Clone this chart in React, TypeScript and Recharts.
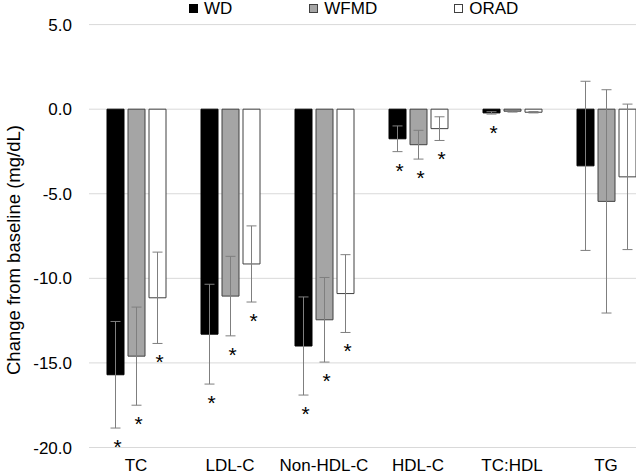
import { BarChart, Bar, XAxis, YAxis, CartesianGrid, ErrorBar, LabelList, Label } from 'recharts';

const categories = ['TC', 'LDL-C', 'Non-HDL-C', 'HDL-C', 'TC:HDL', 'TG'];

const wd = [-15.7, -13.3, -14.0, -1.75, -0.22, -3.35];
const wdErr = [3.15, 2.95, 2.9, 0.76, 0.07, 5.0];
const wdSig = [true, true, true, true, true, false];

const wfmd = [-14.6, -11.05, -12.45, -2.1, -0.12, -5.45];
const wfmdErr = [2.9, 2.35, 2.5, 0.85, 0.05, 6.6];
const wfmdSig = [true, true, true, true, false, false];

const orad = [-11.15, -9.15, -10.9, -1.15, -0.18, -4.0];
const oradErr = [2.7, 2.25, 2.3, 0.7, 0.04, 4.3];
const oradSig = [true, true, true, true, false, false];

const yTicks = [5, 0, -5, -10, -15, -20];

const data = categories.map((name, i) => ({
    name,
    wd: wd[i],
    wdErr: wdErr[i],
    wfmd: wfmd[i],
    wfmdErr: wfmdErr[i],
    orad: orad[i],
    oradErr: oradErr[i],
}));

const series = [
    { key: 'wd', name: 'WD', fill: '#000000', stroke: '#000000', values: wd, errs: wdErr, sig: wdSig },
    { key: 'wfmd', name: 'WFMD', fill: '#a5a5a5', stroke: '#404040', values: wfmd, errs: wfmdErr, sig: wfmdSig },
    { key: 'orad', name: 'ORAD', fill: '#ffffff', stroke: '#404040', values: orad, errs: oradErr, sig: oradSig },
];

const font = '"Liberation Sans", Arial, sans-serif';

// asterisk below the lower end of the error bar, scale taken from the bar itself
const makeStar = (values: number[], errs: number[], sig: boolean[]) => (props: any) => {
    const vb = props.viewBox ?? props;
    const { x, y, width, height } = vb;
    const index = props.index;
    if (index == null || !sig[index]) return null;
    const v = values[index];
    const ppu = Math.abs(height) / Math.abs(v);
    const bottom = Math.max(y, y + height);
    const low = bottom + errs[index] * ppu;
    return (
        <text
            x={x + width / 2 + 2}
            y={low + 26}
            textAnchor="middle"
            fontSize={21}
            fontFamily={font}
            fill="#000"
        >
            *
        </text>
    );
};

export default function App() {
    return (
        <div style={{ position: 'absolute', left: 0, top: 0, width: 636, height: 474, overflow: 'hidden', background: '#fff' }}>
            <div style={{
                position: 'absolute', left: 189, top: 0, display: 'flex', gap: 77,
                fontFamily: font, fontSize: 17, lineHeight: '17px', color: '#000', zIndex: 2,
            }}>
                {series.map((s) => (
                    <div key={s.key} style={{ display: 'flex', alignItems: 'center' }}>
                        <span style={{
                            display: 'inline-block', width: 7, height: 7, background: s.fill,
                            border: `1px solid ${s.stroke}`, marginRight: 6,
                        }} />
                        <span>{s.name}</span>
                    </div>
                ))}
            </div>
            <BarChart
                width={660}
                height={474}
                data={data}
                margin={{ top: 24.6, right: 7, bottom: 0, left: 0 }}
                barSize={17}
                barGap={4}
            >
                <CartesianGrid stroke="#d9d9d9" vertical={false} />
                <XAxis
                    dataKey="name"
                    axisLine={false}
                    tickLine={false}
                    tickSize={6}
                    tickMargin={5}
                    height={26.5}
                    interval={0}
                    tick={{ fontSize: 17, fontFamily: font, fill: '#000' }}
                />
                <YAxis
                    domain={[-20, 5]}
                    ticks={yTicks}
                    width={89}
                    axisLine={false}
                    tickLine={false}
                    tickSize={6}
                    tickMargin={11}
                    tickFormatter={(v: number) => v.toFixed(1)}
                    tick={{ fontSize: 17, fontFamily: font, fill: '#000' }}
                >
                    <Label
                        value="Change from baseline (mg/dL)"
                        angle={-90}
                        position="center"
                        dx={-31}
                        dy={14}
                        style={{ fontSize: 18.5, fontFamily: font, fill: '#000', textAnchor: 'middle' }}
                    />
                </YAxis>
                {series.map((s) => (
                    <Bar
                        key={s.key}
                        dataKey={s.key}
                        name={s.name}
                        fill={s.fill}
                        stroke={s.stroke}
                        strokeWidth={1}
                        isAnimationActive={false}
                    >
                        <ErrorBar dataKey={`${s.key}Err`} width={5} stroke="#7f7f7f" strokeWidth={1} direction="y" />
                        <LabelList dataKey={s.key} content={makeStar(s.values, s.errs, s.sig)} />
                    </Bar>
                ))}
            </BarChart>
        </div>
    );
}
